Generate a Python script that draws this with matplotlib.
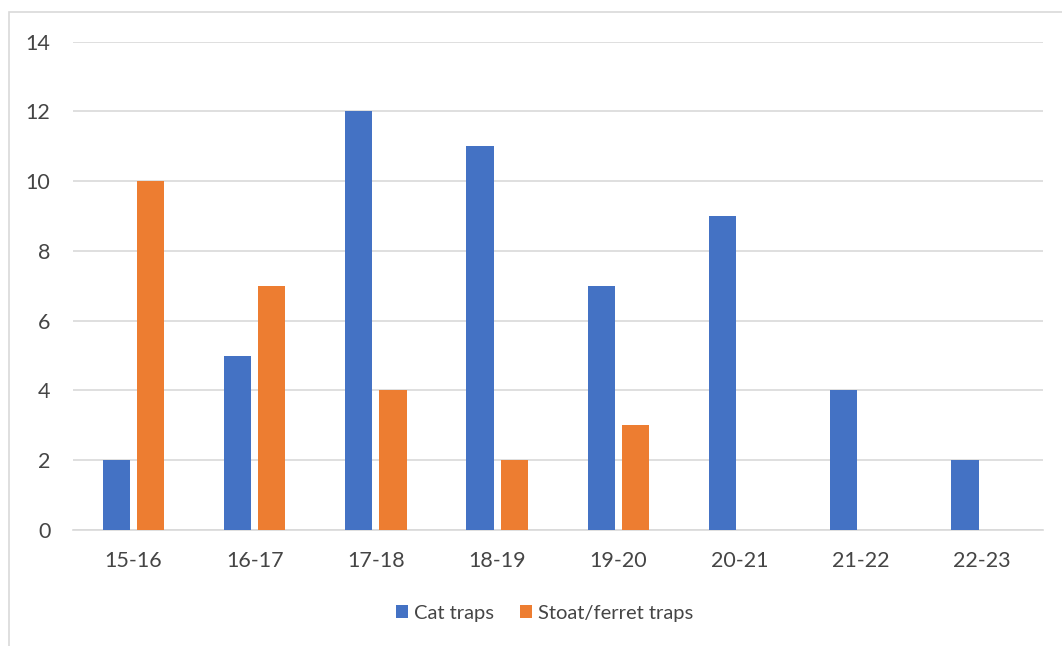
import matplotlib.pyplot as plt
from matplotlib.patches import Rectangle
import numpy as np

seasons = ['15-16', '16-17', '17-18', '18-19', '19-20', '20-21', '21-22', '22-23']
cat_traps = [2, 5, 12, 11, 7, 9, 4, 2]
stoat_traps = [10, 7, 4, 2, 3, 0, 0, 0]

plt.rcParams['font.family'] = ['Lato', 'DejaVu Sans']
text_col = '#454545'
grid_col = '#d9d9d9'

fig = plt.figure(figsize=(10.62, 6.46), dpi=100)
ax = fig.add_axes([0.0685, 0.1796, 0.9135, 0.7558])

x = np.arange(len(seasons))
w = 0.225
off = 0.1415
ax.bar(x - off, cat_traps, w, color='#4472C4', label='Cat traps', zorder=3)
ax.bar(x + off, stoat_traps, w, color='#ED7D31', label='Stoat/ferret traps', zorder=3)

ax.set_xlim(-0.5, len(seasons) - 0.5)
ax.set_ylim(0, 14)
ax.set_yticks(range(0, 15, 2))
ax.set_xticks(x)
ax.set_xticklabels(seasons)
ax.yaxis.grid(True, color=grid_col, linewidth=1.2, zorder=0)
ax.set_axisbelow(True)
for s in ['top', 'right', 'left']:
    ax.spines[s].set_visible(False)
ax.spines['bottom'].set_color(grid_col)
ax.spines['bottom'].set_linewidth(1.2)
ax.tick_params(axis='both', length=0, labelsize=15.5, labelcolor=text_col)
ax.tick_params(axis='x', pad=15)
ax.tick_params(axis='y', pad=16)

fig.legend(loc='center', bbox_to_anchor=(0.513, 0.051), ncol=2, frameon=False,
           fontsize=14.5, labelcolor=text_col, handlelength=0.6, handleheight=0.6,
           handletextpad=0.3, columnspacing=1.3)

# light chart-area border
fig.patches.append(Rectangle((9 / 1062, -0.1), 1.2, 1.1 - 12 / 646, transform=fig.transFigure,
                             fill=False, edgecolor=grid_col, linewidth=1.2))

fig.savefig('out.png', dpi=100)
